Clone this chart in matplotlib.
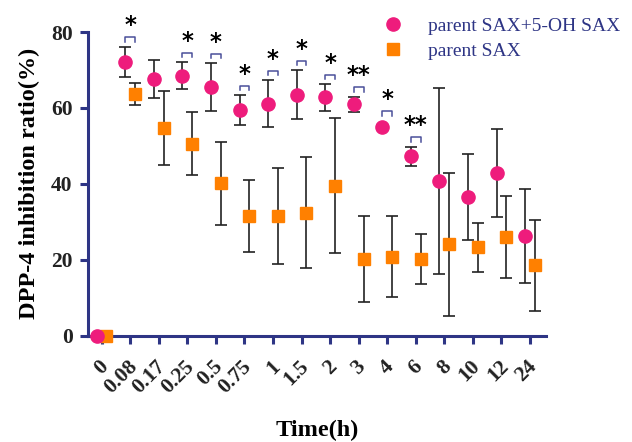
import matplotlib
matplotlib.use("Agg")
import matplotlib.pyplot as plt
import matplotlib.transforms as mtransforms
import numpy as np

# ---- data ----
time_labels = ["0", "0.08", "0.17", "0.25", "0.5", "0.75", "1", "1.5", "2", "3", "4", "6", "8", "10", "12", "24"]
combo_mean = [0, 72.1, 67.6, 68.5, 65.5, 59.4, 61.1, 63.5, 62.8, 61.0, 54.9, 47.3, 40.8, 36.5, 42.9, 26.3]
combo_err  = [0, 4.0, 5.0, 3.5, 6.3, 4.0, 6.2, 6.4, 3.5, 2.0, 0.5, 2.5, 24.5, 11.3, 11.6, 12.3]
parent_mean = [0, 63.6, 54.7, 50.5, 40.1, 31.5, 31.5, 32.4, 39.5, 20.2, 20.8, 20.2, 24.1, 23.3, 26.0, 18.6]
parent_err  = [0, 2.9, 9.8, 8.3, 11.0, 9.5, 12.6, 14.6, 17.8, 11.4, 10.6, 6.5, 18.8, 6.5, 10.8, 12.0]
significance = ["", "*", "", "*", "*", "*", "*", "*", "*", "**", "*", "**", "", "", "", ""]
yticks = [0, 20, 40, 60, 80]

pink = "#EE1C7C"
orange = "#FF8000"
navy = "#2E3585"
serif = ["Liberation Serif", "DejaVu Serif"]

fig = plt.figure(figsize=(6.32, 4.42), dpi=100)
ax = fig.add_axes([0.139, 0.2405, 0.725, 0.6871])

x = np.arange(len(time_labels))
off = 0.17

ax.errorbar(x - off, combo_mean, yerr=combo_err, fmt="none", ecolor="#222222",
            elinewidth=1.2, capsize=4.3, capthick=1.2, zorder=2, clip_on=False)
ax.errorbar(x + off, parent_mean, yerr=parent_err, fmt="none", ecolor="#222222",
            elinewidth=1.2, capsize=4.3, capthick=1.2, zorder=2, clip_on=False)
ax.plot(x - off, combo_mean, "o", color=pink, markersize=9.5, linestyle="none",
        zorder=4, clip_on=False, label="parent SAX+5-OH SAX")
ax.plot(x + off, parent_mean, "s", color=orange, markersize=9, linestyle="none",
        zorder=3, clip_on=False, label="parent SAX")

# significance brackets and stars
for i, s in enumerate(significance):
    if not s:
        continue
    base = combo_mean[i] + combo_err[i]
    base = max(base, combo_mean[i] + 1.8) + 1.3
    top = base + 1.2
    ax.plot([i - off, i - off, i + off, i + off], [base, top, top, base],
            color="#4A4F9A", lw=1.1, clip_on=False, zorder=5)
    ax.text(i, top + 3.0, s, ha="center", va="center", fontsize=16.5,
            fontweight="bold", family="DejaVu Sans", color="black", clip_on=False)

ax.set_xlim(-0.48, 15.56)
ax.set_ylim(0, 80)
ax.set_yticks(yticks)
ax.set_xticks(x)
ax.set_xticklabels(time_labels, rotation=45, ha="right", va="center",
                   rotation_mode="anchor")

for sp in ["top", "right"]:
    ax.spines[sp].set_visible(False)
for sp in ["left", "bottom"]:
    ax.spines[sp].set_color(navy)
    ax.spines[sp].set_linewidth(2.2)
ax.tick_params(axis="both", colors=navy, width=2.2, length=6, direction="out")
ax.tick_params(axis="x", pad=14)
ax.tick_params(axis="y", pad=5)
shift = mtransforms.ScaledTranslation(4 / 100, 0, fig.dpi_scale_trans)
for lab in ax.get_xticklabels():
    lab.set_transform(lab.get_transform() + shift)
for lab in ax.get_xticklabels() + ax.get_yticklabels():
    lab.set_family(serif)
    lab.set_fontweight("bold")
    lab.set_color("#222222")
    lab.set_fontsize(15.5)

ax.set_xlabel("Time(h)", fontsize=17.5, fontweight="bold", family=serif, labelpad=16)
ax.set_ylabel("DPP-4 inhibition ratio(%)", fontsize=17.5, fontweight="bold", family=serif, labelpad=8)

leg = fig.legend(loc="upper left", bbox_to_anchor=(0.576, 1.0), frameon=False,
                 prop={"family": serif, "size": 14}, labelcolor=navy,
                 handletextpad=1.2, labelspacing=0.35, handlelength=1.2)

fig.savefig("out.png", dpi=100)
